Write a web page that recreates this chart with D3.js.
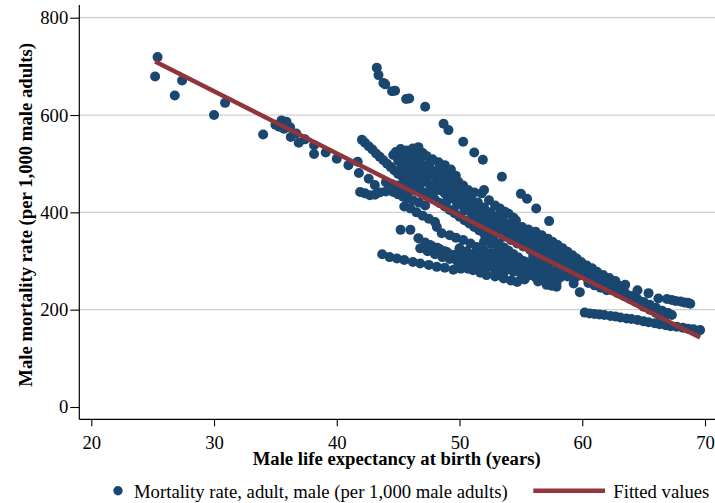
<!DOCTYPE html>
<html>
<head>
<meta charset="utf-8">
<script src="https://cdn.jsdelivr.net/npm/d3@7"></script>
<style>
  html, body { margin: 0; padding: 0; background: #fff; }
  svg { display: block; }
</style>
</head>
<body>
<svg id="chart" width="715" height="503"></svg>
<script>
// Male life expectancy at birth (years) vs adult male mortality rate (per 1,000),
// country-year observations grouped by the trails they form.
const sparseHigh = [
  [25.4,719],[25.2,679],[26.8,640],[27.4,671],[30.0,600],[30.9,625],[34.0,560],
  [35.0,580],[35.3,576],[35.5,589],[35.7,572],[35.9,586],[36.2,575],[36.25,555],
  [36.7,562],[36.9,543],[37.4,550],[38.15,538],[38.15,520],[39.1,523],[40.0,510],
  [40.95,497],[41.7,504],[41.8,481],[42.6,469],[43.1,456]
];
const steepTrail = [
  [43.26,697],[43.4,682],[43.8,666],[43.95,663],[44.5,649],[44.75,650],[45.65,633],
  [45.9,634],[47.2,617],[48.7,582],[49.1,569],[50.3,545],[51.2,523],[51.9,508],
  [53.45,473],[55.0,438],[55.5,428],[56.25,408],[57.3,382]
];
const earlyDecline = [
  [42.05,549],[42.3,543],[42.6,536],[42.9,529],[43.2,521],[43.5,514],[43.8,507],
  [44.1,500],[44.4,493],[44.7,486],[45.0,479],[45.4,471],[45.8,462],[46.2,453]
];
const plateauTrail = [
  [41.9,442],[42.3,439],[42.7,435],[43.1,436],[43.5,441],[44.0,443],[44.6,442],
  [45.0,437],[45.4,432],[45.8,428],[46.2,425],[46.7,420],[47.2,414]
];
const midScatter = [
  [44.0,462],[44.5,458],[45.0,455],[45.5,450],[46.0,445],[45.5,412],[46.0,408],
  [46.5,400],[47.0,393],[47.5,387],[48.0,380],[44.6,518],[46.5,514],[45.2,514],[45.7,521]
];
const bandTop = [
  [44.8,524],[45.2,530],[45.7,527],[46.2,531],[46.65,534],[47.0,522],[47.3,516],
  [47.8,509],[48.3,503],[48.8,497],[49.3,488],[49.7,475],[49.9,463],[50.3,455],
  [50.7,446],[51.2,441],[51.8,439],[52.0,446],[52.4,425],[52.9,414],[53.3,408],
  [53.7,401],[54.0,397],[54.4,389],[54.6,383],[55.1,370],[55.6,365],[56.2,360],
  [56.7,353],[57.2,346],[57.6,339],[58.0,333],[58.4,326],[58.8,319],[59.2,312],
  [59.55,305],[59.9,298],[60.35,291],[60.8,285],[61.2,278],[61.7,271],[62.2,265],[62.7,259]
];
const bandSecond = [
  [45.0,506],[45.5,512],[46.0,506],[46.5,500],[47.0,497],[47.5,490],[48.0,485],
  [48.5,478],[49.0,470],[49.5,457],[50.0,448],[50.5,432],[51.0,425],[51.5,420],
  [52.0,410],[52.5,400],[53.0,392],[53.5,385],[54.0,376],[54.5,368],[55.0,356],
  [55.5,350],[56.0,343],[56.5,335],[57.0,327],[57.5,320],[58.0,312],[58.5,305],
  [59.0,298],[59.5,290],[60.0,284],[60.5,278],[61.0,272],[61.5,266],[62.0,260],
  [62.5,254],[63.0,249]
];
const bandThird = [
  [45.2,490],[45.7,483],[46.2,476],[46.8,477],[47.3,470],[47.7,484],[48.2,466],
  [48.7,458],[49.2,450],[49.7,441],[50.2,432],[50.9,415],[51.4,404],[51.9,396],
  [52.4,388],[52.9,380],[53.4,372],[53.9,363],[54.4,354],[54.9,346],[55.4,338],
  [55.9,330],[56.4,322],[56.9,314],[57.4,306],[57.9,299],[58.4,292],[58.9,285],
  [59.4,278],[59.9,271],[60.4,265],[60.9,258],[61.4,252],[61.9,246],[62.4,240],
  [62.9,234],[63.4,228],[63.9,222],[64.4,216],[64.9,210],[65.4,204],[65.9,199],
  [66.4,194],[66.9,190]
];
const bandFourth = [
  [48.4,446],[48.8,439],[49.2,432],[49.7,426],[50.3,419],[50.8,410],[51.4,401],
  [51.9,393],[52.5,384],[53.0,377],[53.6,370],[54.1,362],[54.7,355],[55.2,348],
  [55.8,341],[56.3,334],[56.9,327],[57.4,320],[58.0,313],[58.5,306],[59.1,299],
  [59.6,292],[60.2,285],[60.7,279]
];
const bandCentre = [
  [46.3,452],[46.8,446],[47.2,440],[47.6,433],[48.0,426],[48.4,419],[48.8,412],
  [49.2,405],[49.6,398],[50.0,391],[50.4,384],[50.8,377],[51.2,370],[51.6,363],
  [52.0,356],[52.4,349],[52.8,342],[53.2,335],[53.6,328],[54.0,321],[54.4,314],
  [54.8,307],[55.2,300],[55.6,293],[56.0,287]
];
const clusterCore = [
  [45.4,498],[45.9,495],[46.4,490],[46.9,486],[47.4,480],[47.9,474],[48.4,470],
  [48.9,480],[49.4,474],[46.0,520],[46.8,512],[47.6,502],[48.4,492],[49.0,484],
  [47.0,462],[47.6,455],[48.2,450],[48.8,452],[49.4,446],[50.0,438],[50.6,424],
  [51.2,414],[51.8,408],[45.6,468],[46.4,462],[47.9,441],[49.0,424],[49.8,415],
  [50.4,404],[51.0,397],[51.6,388],[52.2,380],[52.8,372],[53.4,362],[54.0,354],
  [54.6,345],[55.2,337],[55.8,350],[56.4,342],[57.0,336],[57.6,328],[58.2,320],
  [58.8,310],[59.4,302],[60.0,295]
];
const lowFloor = [
  [43.7,314],[44.3,308],[44.9,305],[45.5,302],[46.2,298],[46.8,295],[47.5,292],
  [48.15,288],[48.8,286],[49.5,282],[50.1,284],[50.7,284],[51.1,281],[51.7,276],
  [52.2,271],[52.9,268],[53.6,264],[54.2,260],[54.7,257],[55.3,262],[55.75,275],
  [56.4,258],[57.1,251],[57.5,249],[57.9,247]
];
const lowSecond = [
  [48.15,370],[48.55,357],[49.2,353],[49.7,348],[50.3,343],[50.9,336],[51.4,329],
  [52.0,322],[52.5,316],[53.1,309],[53.6,302],[54.2,295],[54.7,288],[55.2,283],
  [55.75,278],[56.3,273],[56.85,268],[57.4,261],[57.9,254]
];
const lowThird = [
  [51.15,384],[51.8,374],[52.5,364],[53.0,357],[53.6,350],[54.2,343],[54.7,336],
  [55.2,330],[55.75,323],[56.4,316],[57.1,309],[57.8,298],[58.45,288],[59.0,278],
  [59.55,268],[59.3,254],[58.8,268],[59.8,236]
];
const lowFourth = [
  [45.2,364],[46.0,364],[46.65,347],[47.2,338],[47.8,330],[48.4,324],[49.0,318],
  [49.6,313],[50.2,308],[50.8,303],[51.4,298],[52.0,294],[52.6,290],[53.2,286],
  [53.8,282],[54.4,278],[55.0,274],[55.6,270],[56.2,266]
];
const lowFifth = [
  [46.8,326],[47.6,333],[48.2,327],[48.8,320],[49.5,312],[50.1,305],[50.8,298],
  [51.5,292],[52.2,287],[52.9,281],[53.6,276]
];
const lowCore = [
  [47.4,320],[48.0,314],[48.6,308],[49.2,304],[49.8,300],[50.4,296],[51.0,292],
  [51.6,305],[52.2,300],[52.8,296],[53.4,292],[54.0,288],[54.6,284],[55.2,292],
  [55.8,287],[56.4,282],[57.0,277],[57.6,272],[58.2,266],[50.0,326],[50.6,320],
  [51.2,315],[51.8,311],[52.4,306],[53.0,318],[53.6,314],[54.2,309],[54.8,303],
  [55.4,298],[56.0,296],[56.6,291],[57.2,286],[57.8,280],[58.4,276],[52.0,340],
  [52.6,335],[53.2,328],[53.8,322],[56.0,310],[56.6,303],[57.2,296]
];
const rightBandA = [
  [61.5,258],[62.0,252],[62.5,246],[63.0,240],[63.5,234],[64.0,228],[64.5,222],
  [65.0,216],[65.5,210],[66.0,204],[66.5,198],[67.0,193],[67.3,189]
];
const rightBandB = [
  [60.5,255],[61.0,250],[61.5,245],[62.0,240],[62.3,247],[62.8,236],[63.3,230],
  [63.6,227],[64.1,221],[64.6,214],[65.0,206],[65.5,200],[66.0,193],[66.3,189]
];
const rightUpper = [
  [63.5,251],[64.5,240],[65.4,234],[66.2,223],[66.9,222],[67.3,220],[67.6,218],
  [68.0,217],[68.3,215],[68.6,214],[68.8,212]
];
const rightLower = [
  [60.2,194],[60.6,192],[61.0,191],[61.4,190],[61.8,189],[62.3,187],[62.7,186],
  [63.1,184],[63.6,182],[64.0,181],[64.5,179],[65.0,176],[65.4,174],[65.9,172],
  [66.3,170],[66.8,168],[67.2,166],[67.7,165],[68.2,163],[68.6,161],[69.05,160],[69.6,158]
];

// Linear fit, evaluated at the ends of the observed life-expectancy range
const fitLifeExp = [25.2, 69.6];
const fitMortality = [710, 143];

const xTicks = [20, 30, 40, 50, 60, 70];
const yTicks = [0, 200, 400, 600, 800];

const xTitle = "Male life expectancy at birth (years)";
const yTitle = "Male mortality rate (per 1,000 male adults)";
const legendScatter = "Mortality rate, adult, male (per 1,000 male adults)";
const legendFit = "Fitted values";

const points = [].concat(
  sparseHigh, steepTrail, earlyDecline, plateauTrail, midScatter,
  bandTop, bandSecond, bandThird, bandFourth, bandCentre, clusterCore,
  lowFloor, lowSecond, lowThird, lowFourth, lowFifth, lowCore,
  rightBandA, rightBandB, rightUpper, rightLower
);

const W = 715, H = 503;
const navy = "#1a476f", maroon = "#90353b";
const serif = '"Liberation Serif","Times New Roman",Times,serif';
const fontSize = 18.7;

const svg = d3.select("#chart");
const x = d3.scaleLinear().domain([20, 70]).range([91.3, 705]);
const y = d3.scaleLinear().domain([0, 800]).range([407, 17.7]);
const axisLeftX = 79.3, axisBottomY = 419.3, axisTopY = 5;

// horizontal gridlines
svg.append("g")
  .selectAll("line")
  .data(yTicks.filter(d => d > 0))
  .join("line")
  .attr("x1", axisLeftX).attr("x2", W)
  .attr("y1", d => y(d)).attr("y2", d => y(d))
  .attr("stroke", "#cfcfcf").attr("stroke-width", 1.2);

// scatter
svg.append("g")
  .selectAll("circle")
  .data(points)
  .join("circle")
  .attr("cx", d => x(d[0]))
  .attr("cy", d => y(d[1]))
  .attr("r", 5)
  .attr("fill", navy);

// fitted line
const fitData = fitLifeExp.map((v, i) => [v, fitMortality[i]]);
svg.append("path")
  .datum(fitData)
  .attr("d", d3.line().x(d => x(d[0])).y(d => y(d[1])))
  .attr("fill", "none")
  .attr("stroke", maroon)
  .attr("stroke-width", 4.5);

// axes
const yAxis = svg.append("g")
  .attr("transform", `translate(${axisLeftX},0)`)
  .call(d3.axisLeft(y).tickValues(yTicks).tickSize(9).tickPadding(2).tickFormat(d3.format("d")));
yAxis.select(".domain").remove();

const xAxis = svg.append("g")
  .attr("transform", `translate(0,${axisBottomY})`)
  .call(d3.axisBottom(x).tickValues(xTicks).tickSize(7).tickPadding(9.2).tickFormat(d3.format("d")));
xAxis.select(".domain").remove();

[yAxis, xAxis].forEach(g => {
  g.selectAll(".tick line").attr("stroke", "#000").attr("stroke-width", 1.1);
  g.selectAll(".tick text")
    .attr("fill", "#000")
    .style("font-family", serif)
    .style("font-size", fontSize + "px");
});

svg.append("line")
  .attr("x1", axisLeftX).attr("x2", axisLeftX)
  .attr("y1", axisTopY).attr("y2", axisBottomY)
  .attr("stroke", "#000").attr("stroke-width", 1.2);
svg.append("line")
  .attr("x1", axisLeftX).attr("x2", W)
  .attr("y1", axisBottomY).attr("y2", axisBottomY)
  .attr("stroke", "#000").attr("stroke-width", 1.2);

// axis titles
svg.append("text")
  .attr("transform", "translate(32.3,214.9) rotate(-90)")
  .attr("text-anchor", "middle")
  .style("font-family", serif).style("font-size", fontSize + "px").style("font-weight", "bold")
  .text(yTitle);
svg.append("text")
  .attr("x", 396.7).attr("y", 465.3)
  .attr("text-anchor", "middle")
  .style("font-family", serif).style("font-size", fontSize + "px").style("font-weight", "bold")
  .text(xTitle);

// legend
const legend = svg.append("g");
legend.append("circle").attr("cx", 118).attr("cy", 490.7).attr("r", 4.7).attr("fill", navy);
legend.append("text").attr("x", 134).attr("y", 497.5)
  .style("font-family", serif).style("font-size", fontSize + "px")
  .text(legendScatter);
legend.append("line")
  .attr("x1", 533.3).attr("x2", 605).attr("y1", 490.7).attr("y2", 490.7)
  .attr("stroke", maroon).attr("stroke-width", 4.5);
legend.append("text").attr("x", 613.3).attr("y", 497.5)
  .style("font-family", serif).style("font-size", fontSize + "px")
  .text(legendFit);
</script>
</body>
</html>
